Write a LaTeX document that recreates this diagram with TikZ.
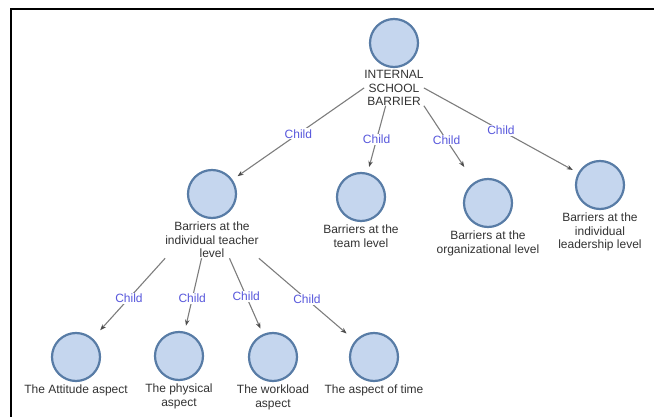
\documentclass[tikz,border=0pt]{standalone}
\usepackage{fontspec}
\setmainfont{Liberation Sans}
\usetikzlibrary{arrows.meta,positioning}
\definecolor{nodefill}{RGB}{197,214,238}
\definecolor{nodeline}{RGB}{88,124,166}
\definecolor{childblue}{RGB}{88,88,220}
\definecolor{edgegrey}{RGB}{125,125,125}
\definecolor{textgrey}{RGB}{50,50,50}
\tikzset{
    topic/.style={circle, draw=nodeline, fill=nodefill, line width=2.2pt,
                  minimum size=48pt, inner sep=0pt},
    tlabel/.style={inner sep=0pt, align=center, text=textgrey,
                   font=\fontsize{12}{13.5}\selectfont},
    childlbl/.style={fill=white, inner sep=1pt, text=childblue,
                     font=\fontsize{12}{13}\selectfont},
}

\begin{document}
\begin{tikzpicture}[
    x=1pt, y=-1pt,
    conn/.style={edgegrey, line width=1.1pt, shorten >=6pt,
                 -{Stealth[length=6pt,width=4.5pt,color=black!70]}}
]
    \useasboundingbox (0,0) rectangle (654,417);
    \draw[line width=2pt] (11,417) -- (11,9) -- (654,9);

    \node[topic] (root) at (394,43) {};
    \node[tlabel, below=2pt of root] (rootlbl) {INTERNAL\\SCHOOL\\BARRIER};

    \node[topic] (teacher) at (212,194) {};
    \node[tlabel, below=3pt of teacher] (teachlbl) {Barriers at the\\individual teacher\\level};
    \node[topic] (team) at (361,197) {};
    \node[tlabel, below=3pt of team] (teamlbl) {Barriers at the\\team level};
    \node[topic] (org) at (488,203) {};
    \node[tlabel, below=3pt of org] (orglbl) {Barriers at the\\organizational level};
    \node[topic] (lead) at (600,185) {};
    \node[tlabel, below=3pt of lead] (leadlbl) {Barriers at the\\individual\\leadership level};

    \node[topic] (att) at (76,357) {};
    \node[tlabel, below=3pt of att] (attlbl) {The Attitude aspect};
    \node[topic] (phys) at (179,356) {};
    \node[tlabel, below=3pt of phys] (physlbl) {The physical\\aspect};
    \node[topic] (work) at (273,357) {};
    \node[tlabel, below=3pt of work] (worklbl) {The workload\\aspect};
    \node[topic] (time) at (374,357) {};
    \node[tlabel, below=3pt of time] (timelbl) {The aspect of time};

    \draw[conn] (rootlbl.west) -- node[childlbl] {Child} (teacher);
    \draw[conn] (rootlbl.245) -- node[childlbl] {Child} (team);
    \draw[conn, shorten >=18pt] (rootlbl.south east) -- node[childlbl, pos=0.45] {Child} (org);
    \draw[conn] (rootlbl.east) -- node[childlbl] {Child} (lead);

    \draw[conn, shorten >=11pt] (teachlbl.south west) -- node[childlbl] {Child} (att);
    \draw[conn] (teachlbl.240) -- node[childlbl, pos=0.55] {Child} (phys);
    \draw[conn] (teachlbl.314) -- node[childlbl] {Child} (work);
    \draw[conn, shorten >=11pt] (teachlbl.south east) -- node[childlbl] {Child} (time);
\end{tikzpicture}
\end{document}
